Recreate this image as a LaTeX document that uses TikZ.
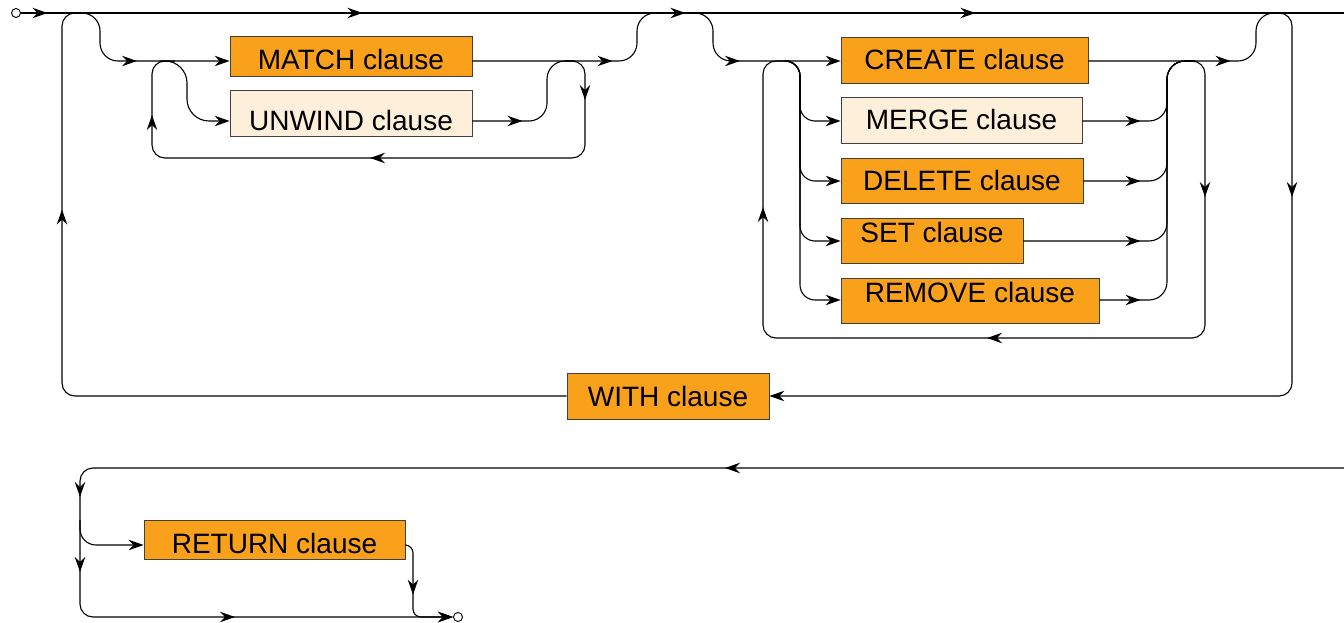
\documentclass[tikz,border=0pt]{standalone}
\usepackage{fontspec}
\setmainfont{Liberation Sans}
\usepackage{tikz}
\usetikzlibrary{arrows.meta,decorations.markings}
\definecolor{clauseorange}{RGB}{249,161,27}
\definecolor{clauselight}{RGB}{254,239,218}
\tikzstyle{clause}=[draw=black!75,line width=0.8pt,fill=clauseorange,inner xsep=0pt,inner ysep=0pt,text height=20pt,text depth=0pt,minimum height=45pt,font=\fontsize{28}{34}\selectfont]
\tikzstyle{rail}=[line width=1.1pt]
\tikzstyle{terminal}=[draw,circle,fill=white,inner sep=0pt,minimum size=9pt,line width=0.9pt]
\tikzset{railtip/.style={-{Stealth[length=15pt,width=10.5pt,inset=5pt]}},
  arrowat/.style={postaction={decorate,decoration={markings,mark=at position #1 with {\arrow{Stealth[length=15pt,width=10.5pt,inset=5pt]}}}}}}

\begin{document}
\begin{tikzpicture}[x=1pt,y=-1pt]
  \useasboundingbox (0,0) rectangle (1344,623);
  % rows of the branches
  \coordinate (rowA) at (0,61);
  \coordinate (rowB) at (0,121);
  \coordinate (rowC) at (0,181);
  \coordinate (rowD) at (0,241);
  \coordinate (rowE) at (0,300);
  \coordinate (rowR) at (0,545);
  \coordinate (topend) at (1344,13);
  \coordinate (cont) at (1344,468);
  \node[terminal] (start) at (16,13) {};
  \node[terminal] (finish) at (458,617) {};
  % clauses
  \node[clause,minimum width=242pt,minimum height=40pt,text height=28pt] (match) at (351,56) {MATCH clause};
  \node[clause,fill=clauselight,minimum width=242pt,minimum height=46pt,text height=36pt] (unwind) at (351,113) {UNWIND clause};
  \node[clause,minimum width=247pt,minimum height=46pt] (create) at (964.5,60) {CREATE clause};
  \node[clause,fill=clauselight,minimum width=241pt,minimum height=46pt] (merge) at (961.5,120) {MERGE clause};
  \node[clause,minimum width=242pt] (delete) at (962,180.5) {DELETE clause};
  \node[clause,minimum width=182pt,text depth=16pt] (set) at (932,240.5) {SET clause};
  \node[clause,minimum width=258pt,text depth=16pt] (remove) at (970,300.5) {REMOVE clause};
  \node[clause,minimum width=202pt,minimum height=46pt] (with) at (668,396) {WITH clause};
  \node[clause,minimum width=261pt,minimum height=39pt,text height=28pt] (return) at (274.5,539.5) {RETURN clause};

  % main line
  \draw[rail,arrowat=26.5pt,arrowat=341.5pt,arrowat=664.5pt,arrowat=954.5pt] (start) -- (topend);

  % reading part
  \draw[rail,rounded corners=18pt,arrowat=89.5pt,railtip] (80,13) -| (100,61) -- (match.west |- rowA);
  \draw[rail,rounded corners=22pt,railtip] (160,61) -| (187,121) -- (unwind.west |- rowB);
  \draw[rail,rounded corners=18pt,arrowat=140pt] (match.east |- rowA) -| (637,13) -- (680,13);
  \draw[rail,rounded corners=18pt,arrowat=50pt] (unwind.east |- rowB) -| (547,61) -- (575,61);
  \draw[rail,rounded corners=13pt,arrowat=53.4pt,arrowat=320.8pt,arrowat=576.2pt]
    (565,61) -| (585,158) -| (152,61) -- (175,61);

  % updating part
  \draw[rail,rounded corners=18pt,arrowat=82.5pt,railtip] (690,13) -| (713,61) -- (create.west |- rowA);
  \foreach \b/\r in {merge/rowB,delete/rowC,set/rowD,remove/rowE}
    \draw[rail,rounded corners=15pt,railtip] (785,61) -| (800,0 |- \r) -- (\b.west |- \r);
  \foreach \b/\r/\p in {merge/rowB/58pt,delete/rowC/57pt,set/rowD/117pt,remove/rowE/41pt}
    \draw[rail,rounded corners=18pt,arrowat=\p] (\b.east |- \r) -| (1167,61) -- (1195,61);
  \draw[rail,rounded corners=18pt,arrowat=142pt] (create.east |- rowA) -| (1256,13) -- (1278,13);
  \draw[rail,rounded corners=13pt,arrowat=150.4pt,arrowat=503.8pt,arrowat=853.2pt]
    (1185,61) -| (1205,338) -| (763,61) -- (790,61);

  % WITH loop
  \draw[rail,rounded corners=13pt,arrowat=205.4pt,railtip] (1265,13) -| (1292,396) -- (with.east);
  \draw[rail,rounded corners=13pt,arrowat=685.4pt] (with.west) -| (62,13) -- (88,13);

  % return part
  \draw[rail,rounded corners=13pt,arrowat=619pt,arrowat=1287.4pt,arrowat=1362.4pt,arrowat=1556.8pt,railtip]
    (cont) -| (80,617) -- (finish);
  \draw[rail,rounded corners=16pt,railtip] (80,520) |- (return.west |- rowR);
  \draw[rail,rounded corners=8pt,arrowat=54.6pt,railtip] (return.east |- rowR) -| (413,617) -- (finish);
\end{tikzpicture}
\end{document}
